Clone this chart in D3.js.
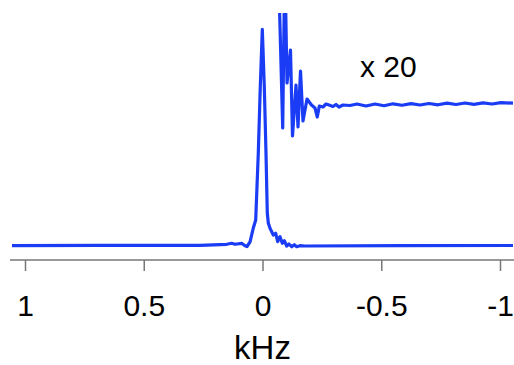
<!DOCTYPE html>
<html>
<head>
<meta charset="utf-8">
<script src="https://cdn.jsdelivr.net/npm/d3@7"></script>
<style>
  html, body { margin: 0; padding: 0; background: #fff; }
  svg { display: block; font-family: 'Liberation Sans', Arial, sans-serif; }
</style>
</head>
<body>
<div id="chart"></div>
<script>
// frequency axis (kHz), reversed like an NMR spectrum
const tickValues = [1, 0.5, 0, -0.5, -1]
const axisLabel = 'kHz'
const scaleNote = 'x 20'

// full spectrum: [kHz, normalised intensity]
const spectrum = [
  [1.0547, -0.001], [0.6842, 0.001], [0.2632, 0.001], [0.1507, 0.0056],
  [0.1297, 0.0102], [0.1158, 0.0056], [0.0876, 0.0102], [0.0737, -0.001],
  [0.0653, -0.0046], [0.0526, 0.0162], [0.0455, 0.0486], [0.0387, 0.0809],
  [0.0286, 0.1179], [0.0177, 0.4278], [0.0093, 0.7345], [0.0008, 1.0],
  [-0.0076, 0.7345], [-0.0147, 0.4278], [-0.0202, 0.1503], [-0.0244, 0.1041],
  [-0.0316, 0.0796], [-0.0455, 0.0486], [-0.0556, 0.0564], [-0.064, 0.0176],
  [-0.0737, 0.0407], [-0.0834, 0.0102], [-0.0918, 0.0222], [-0.1019, -0.0023],
  [-0.1116, 0.0069], [-0.1229, -0.0056], [-0.1339, 0.0037], [-0.144, -0.0056],
  [-0.1579, -0.001], [-0.1789, -0.0023], [-0.5789, -0.001], [-1.0547, 0]
]

// x20 enlarged trace, offset upwards (already in plot units)
const enlarged = [
  [-0.061, 1.274], [-0.0707, 1.1355], [-0.0851, 0.5435], [-0.0918, 1.1355],
  [-0.0947, 1.274], [-0.1032, 0.7516], [-0.1179, 0.9042], [-0.1263, 0.5065],
  [-0.1411, 0.7424], [-0.1495, 0.5481], [-0.16, 0.8071], [-0.1705, 0.5759],
  [-0.1874, 0.6776], [-0.2063, 0.6499], [-0.2211, 0.636], [-0.2307, 0.5944],
  [-0.2392, 0.6452], [-0.2547, 0.6406], [-0.2674, 0.6545], [-0.28, 0.6499],
  [-0.2968, 0.6429], [-0.3095, 0.6522], [-0.3221, 0.6406], [-0.3389, 0.6499],
  [-0.3684, 0.6475], [-0.3979, 0.6545], [-0.4358, 0.6452], [-0.4737, 0.6545],
  [-0.5116, 0.6466], [-0.5495, 0.6554], [-0.5874, 0.6485], [-0.6253, 0.6563],
  [-0.6632, 0.6499], [-0.7011, 0.6568], [-0.7389, 0.6508], [-0.7768, 0.6582],
  [-0.8147, 0.6522], [-0.8526, 0.6591], [-0.8905, 0.6531], [-0.9284, 0.66],
  [-0.9663, 0.6545], [-1.0042, 0.661], [-1.0547, 0.6582]
]

const width = 514
const height = 365
const lineColor = '#1a3cf5'

const svg = d3.select('#chart')
  .append('svg')
  .attr('width', width)
  .attr('height', height)

const x = d3.scaleLinear().domain([1, -1]).range([25, 500])
const y = d3.scaleLinear().domain([0, 1]).range([245.5, 29.3])

// clip for the enlarged trace (it runs off the top)
svg.append('defs').append('clipPath').attr('id', 'plot-clip')
  .append('rect')
  .attr('x', 0).attr('y', 13)
  .attr('width', width).attr('height', height - 13)

const line = d3.line()
  .x(d => x(d[0]))
  .y(d => y(d[1]))

svg.append('path')
  .datum(spectrum)
  .attr('d', line)
  .attr('fill', 'none')
  .attr('stroke', lineColor)
  .attr('stroke-width', 3.2)
  .attr('stroke-linejoin', 'round')

svg.append('path')
  .datum(enlarged)
  .attr('d', line)
  .attr('clip-path', 'url(#plot-clip)')
  .attr('fill', 'none')
  .attr('stroke', lineColor)
  .attr('stroke-width', 3.2)
  .attr('stroke-linejoin', 'round')

svg.append('text')
  .attr('x', 360)
  .attr('y', 76.5)
  .attr('font-size', '30px')
  .attr('fill', '#000')
  .text(scaleNote)

// x axis
const axisY = 260
const axis = svg.append('g')
  .attr('transform', `translate(0,${axisY})`)
  .call(d3.axisBottom(x)
    .tickValues(tickValues)
    .tickSize(11)
    .tickFormat(d => String(d)))

axis.select('.domain').remove()
axis.selectAll('.tick line')
  .attr('stroke', '#777')
  .attr('stroke-width', 1.5)
axis.selectAll('.tick text')
  .attr('y', 56)
  .attr('dy', 0)
  .attr('font-size', '30px')
  .attr('font-family', "'Liberation Sans', Arial, sans-serif")
  .attr('fill', '#000')

axis.append('line')
  .attr('x1', 10).attr('x2', width)
  .attr('y1', 0).attr('y2', 0)
  .attr('stroke', '#777')
  .attr('stroke-width', 1.5)

svg.append('text')
  .attr('x', x(0))
  .attr('y', 359)
  .attr('text-anchor', 'middle')
  .attr('font-size', '33px')
  .attr('fill', '#000')
  .text(axisLabel)
</script>
</body>
</html>
